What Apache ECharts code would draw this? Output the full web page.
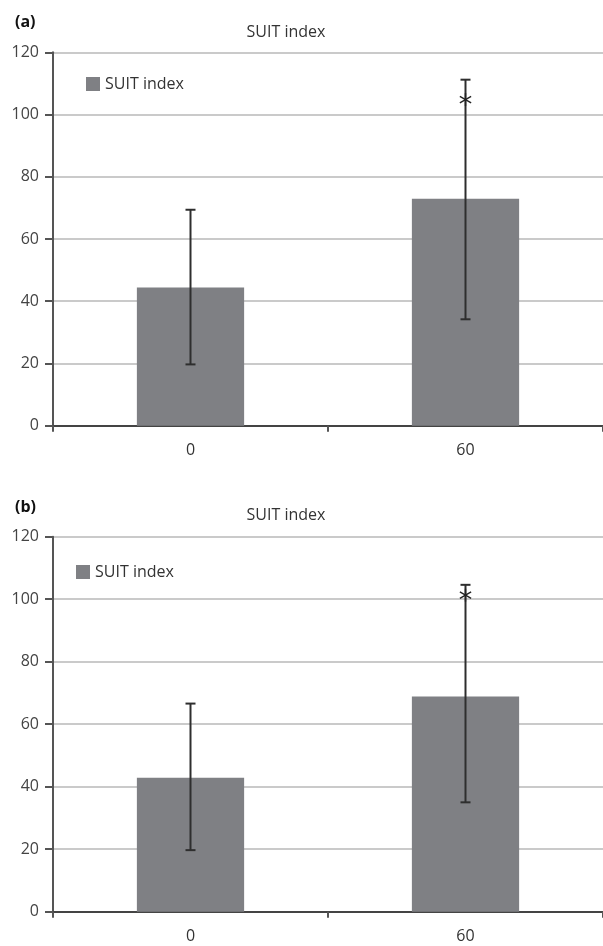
<!DOCTYPE html>
<html>
<head>
<meta charset="utf-8">
<script src="https://cdn.jsdelivr.net/npm/echarts@6/dist/echarts.min.js"></script>
<style>
html,body{margin:0;padding:0;background:#fff;}
#c{width:603px;height:946px;}
</style>
</head>
<body>
<div id="c"></div>
<script>
const categories = ['0', '60'];
const seriesName = 'SUIT index';
const panelLabels = ['(a)', '(b)'];
const yTicks = [0, 20, 40, 60, 80, 100, 120];

// Panel (a)
const meanA = [44.4, 72.9];
const errLowA = [19.7, 34.2];
const errHighA = [69.4, 111.2];
const starA = [null, 104.8];

// Panel (b)
const meanB = [42.9, 68.9];
const errLowB = [19.7, 35.0];
const errHighB = [66.6, 104.6];
const starB = [null, 101.3];

const FONT = '"Open Sans", "Noto Sans", sans-serif';
const BAR = '#7f8084';
const ERR = '#2e2e2e';

function errData(lo, hi) {
  return categories.map((c, i) => [i, lo[i], hi[i]]);
}
function starData(s) {
  const out = [];
  s.forEach((v, i) => { if (v != null) out.push([i, v]); });
  return out;
}

function renderErr(params, api) {
  const x = api.value(0);
  const lo = api.coord([x, api.value(1)]);
  const hi = api.coord([x, api.value(2)]);
  const w = 5;
  const style = { stroke: ERR, lineWidth: 2 };
  return {
    type: 'group',
    children: [
      { type: 'line', shape: { x1: lo[0], y1: lo[1], x2: hi[0], y2: hi[1] }, style },
      { type: 'line', shape: { x1: lo[0] - w, y1: lo[1], x2: lo[0] + w, y2: lo[1] }, style },
      { type: 'line', shape: { x1: hi[0] - w, y1: hi[1], x2: hi[0] + w, y2: hi[1] }, style }
    ]
  };
}
function renderStar(params, api) {
  const p = api.coord([api.value(0), api.value(1)]);
  const r = 6.5;
  const style = { stroke: '#222', lineWidth: 1.4 };
  const children = [];
  for (let k = 0; k < 3; k++) {
    const a = Math.PI / 2 + k * Math.PI / 3;
    children.push({ type: 'line', shape: {
      x1: p[0] - r * Math.cos(a), y1: p[1] - r * Math.sin(a),
      x2: p[0] + r * Math.cos(a), y2: p[1] + r * Math.sin(a) }, style });
  }
  return { type: 'group', children };
}

const grids = [
  { left: 53, top: 52.3, width: 552, height: 373.4 },
  { left: 53, top: 536.7, width: 552, height: 375 }
];

function yAxis(gi) {
  return {
    type: 'value', gridIndex: gi, min: yTicks[0], max: yTicks[yTicks.length - 1], interval: 20,
    axisLine: { show: true, lineStyle: { color: '#555', width: 2 } },
    axisTick: { show: true, length: 8, lineStyle: { color: '#555', width: 2 } },
    axisLabel: { color: '#444', fontSize: 16, fontFamily: FONT, margin: 14 },
    splitLine: { show: true, lineStyle: { color: '#cacaca', width: 2 } }
  };
}
function xAxis(gi) {
  return {
    type: 'category', gridIndex: gi, data: categories, boundaryGap: true,
    axisLine: { show: true, lineStyle: { color: '#444', width: 2 } },
    axisTick: { show: true, length: 6, lineStyle: { color: '#555', width: 2 } },
    axisLabel: { color: '#333', fontSize: 16, fontFamily: FONT, margin: 17 }
  };
}

const option = {
  backgroundColor: '#fff',
  animation: false,
  title: [
    { text: panelLabels[0], left: 10, top: 9, textStyle: { fontSize: 16, fontWeight: 'bold', color: '#111', fontFamily: FONT } },
    { text: seriesName, left: 281, top: 19, textAlign: 'center', textStyle: { fontSize: 16, fontWeight: 'normal', color: '#333', fontFamily: FONT } },
    { text: panelLabels[1], left: 10, top: 494, textStyle: { fontSize: 16, fontWeight: 'bold', color: '#111', fontFamily: FONT } },
    { text: seriesName, left: 281, top: 502, textAlign: 'center', textStyle: { fontSize: 16, fontWeight: 'normal', color: '#333', fontFamily: FONT } }
  ],
  legend: [
    { data: [seriesName], left: 81, top: 71, itemWidth: 14, itemHeight: 14, itemGap: 8, icon: 'rect',
      textStyle: { fontSize: 16, color: '#333', fontFamily: FONT } },
    { data: [seriesName], left: 71, top: 559, itemWidth: 14, itemHeight: 14, itemGap: 8, icon: 'rect',
      textStyle: { fontSize: 16, color: '#333', fontFamily: FONT } }
  ],
  grid: grids,
  xAxis: [xAxis(0), xAxis(1)],
  yAxis: [yAxis(0), yAxis(1)],
  series: [
    { name: seriesName, type: 'bar', xAxisIndex: 0, yAxisIndex: 0, data: meanA, barWidth: '39%',
      itemStyle: { color: BAR }, z: 2 },
    { type: 'custom', xAxisIndex: 0, yAxisIndex: 0, data: errData(errLowA, errHighA), renderItem: renderErr, z: 5 },
    { type: 'custom', xAxisIndex: 0, yAxisIndex: 0, data: starData(starA), renderItem: renderStar, z: 6 },
    { name: seriesName, type: 'bar', xAxisIndex: 1, yAxisIndex: 1, data: meanB, barWidth: '39%',
      itemStyle: { color: BAR }, z: 2 },
    { type: 'custom', xAxisIndex: 1, yAxisIndex: 1, data: errData(errLowB, errHighB), renderItem: renderErr, z: 5 },
    { type: 'custom', xAxisIndex: 1, yAxisIndex: 1, data: starData(starB), renderItem: renderStar, z: 6 }
  ]
};

const chart = echarts.init(document.getElementById('c'), null, { renderer: 'canvas' });
chart.setOption(option);
</script>
</body>
</html>
